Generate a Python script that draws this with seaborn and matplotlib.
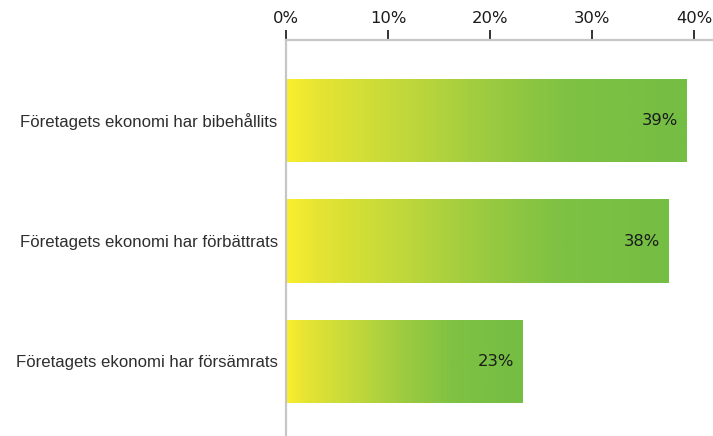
import numpy as np
import pandas as pd
import matplotlib
matplotlib.use("Agg")
import matplotlib.pyplot as plt
from matplotlib.colors import LinearSegmentedColormap
import seaborn as sns

categories = [
    "Företagets ekonomi har bibehållits",
    "Företagets ekonomi har förbättrats",
    "Företagets ekonomi har försämrats",
]
shares = [39.3, 37.5, 23.2]
xticks = [0, 10, 20, 30, 40]
xtick_labels = ["0%", "10%", "20%", "30%", "40%"]

sns.set_style("white")
plt.rcParams["font.family"] = ["DejaVu Sans"]

df = pd.DataFrame({"kategori": categories, "andel": shares})

fig = plt.figure(figsize=(7.13, 4.36), dpi=100)
ax = fig.add_axes([286 / 713, 0.0, 1 - 286 / 713, 1 - 40 / 436])

sns.barplot(data=df, x="andel", y="kategori", orient="h", width=0.69,
            color="#76bf44", ax=ax, zorder=2)

# yellow-to-green fill inside each bar
grad_cmap = LinearSegmentedColormap.from_list(
    "gulgron",
    [(0.0, "#faef2e"), (0.08, "#e6e433"), (0.3, "#c0d83b"), (0.5, "#9dcb40"),
     (0.7, "#7fc243"), (1.0, "#74be43")],
)
grad = np.linspace(0, 1, 256).reshape(1, -1)
for patch, val in zip(ax.patches, shares):
    x0, y0 = patch.get_x(), patch.get_y()
    w, h = patch.get_width(), patch.get_height()
    patch.set_facecolor("none")
    patch.set_edgecolor("none")
    im = ax.imshow(grad, cmap=grad_cmap, vmin=0, vmax=1, aspect="auto",
                   extent=[x0, x0 + w, y0 + h, y0], zorder=1,
                   interpolation="bilinear")
    im.set_clip_path(patch)
    ax.text(x0 + w - 0.85, y0 + h / 2, f"{val:.0f}%", ha="right", va="center",
            fontsize=11.8, color="#1a1a1a", zorder=3)

ax.set_xlim(0, 427 / 10.2)
ax.set_ylim(2 + 74.5 / 120.5, -80.5 / 120.5)

ax.xaxis.tick_top()
ax.set_xticks(xticks)
ax.set_xticklabels(xtick_labels, fontsize=11.8, color="#1a1a1a")
ax.tick_params(axis="x", direction="out", length=7, width=1.4, color="#333333", pad=3)
ax.tick_params(axis="y", length=0, pad=6)
for lbl in ax.get_yticklabels():
    lbl.set_fontfamily("Liberation Sans")
    lbl.set_fontsize(12.1)
    lbl.set_color("#2e2e2e")
ax.set_xlabel("")
ax.set_ylabel("")

for side in ["right", "bottom"]:
    ax.spines[side].set_visible(False)
for side in ["top", "left"]:
    ax.spines[side].set_visible(True)
    ax.spines[side].set_color("#c6c6c6")
    ax.spines[side].set_linewidth(1.6)
ax.grid(False)

fig.savefig("out.png", dpi=100)
